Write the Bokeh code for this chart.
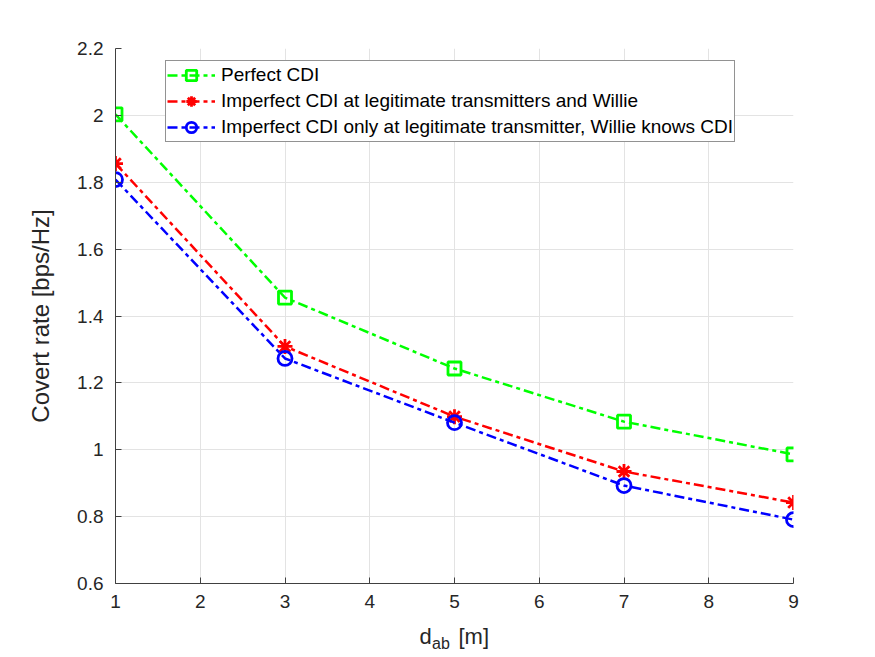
from bokeh.plotting import figure
from bokeh.models import FixedTicker, NumeralTickFormatter, Legend, LegendItem, Label, Range1d
from bokeh.layouts import column
from bokeh.embed import file_html
from bokeh.resources import INLINE

x_vals = [1, 3, 5, 7, 9]
perfect = [2.003, 1.455, 1.243, 1.084, 0.986]
imperfect_both = [1.856, 1.309, 1.099, 0.935, 0.842]
imperfect_tx = [1.808, 1.273, 1.081, 0.893, 0.791]
labels = ["Perfect CDI",
          "Imperfect CDI at legitimate transmitters and Willie",
          "Imperfect CDI only at legitimate transmitter, Willie knows CDI"]
x_ticks = [1, 2, 3, 4, 5, 6, 7, 8, 9]
y_ticks = [0.6, 0.8, 1.0, 1.2, 1.4, 1.6, 1.8, 2.0, 2.2]
x_label_parts = ["d", "ab", "[m]"]

FONT = "Liberation Sans"
TXT = "#262626"

p = figure(width=875, height=620, output_backend="svg", toolbar_location=None,
           x_range=Range1d(1, 9), y_range=Range1d(0.6, 2.2),
           min_border_left=115, min_border_right=82, min_border_top=48, min_border_bottom=37)
p.outline_line_color = None
p.background_fill_color = "white"
p.border_fill_color = "white"

for ax in (p.xaxis[0], p.yaxis[0]):
    ax.axis_line_color = "#404040"
    ax.axis_line_width = 1
    ax.major_tick_in = 6
    ax.major_tick_out = 0
    ax.minor_tick_line_color = None
    ax.major_tick_line_color = "#404040"
    ax.major_label_text_font = FONT
    ax.major_label_text_font_size = "19px"
    ax.major_label_text_color = TXT
    ax.axis_label_text_font = FONT
    ax.axis_label_text_font_style = "normal"
    ax.axis_label_text_color = TXT

p.xaxis.ticker = FixedTicker(ticks=x_ticks)
p.yaxis.ticker = FixedTicker(ticks=y_ticks)
p.yaxis.formatter = NumeralTickFormatter(format="0.[0]")
p.xaxis.major_label_standoff = 11
p.yaxis.major_label_standoff = 12
p.yaxis.axis_label = "Covert rate [bps/Hz]"
p.yaxis.axis_label_text_font_size = "24px"
p.yaxis.axis_label_standoff = 20

p.xgrid.ticker = FixedTicker(ticks=x_ticks)
p.ygrid.ticker = FixedTicker(ticks=y_ticks)
p.grid.grid_line_color = "#e3e3e3"
p.grid.grid_line_width = 1

dash = "10 4 4 4"
series = [
    (perfect, "#00ff00", "square", 13),
    (imperfect_both, "#ff0000", "asterisk", 15),
    (imperfect_tx, "#0000ff", "circle", 14),
]
items = []
for (vals, col, marker, sz), lab in zip(series, labels):
    r1 = p.line(x_vals, vals, line_color=col, line_width=2.5, line_dash=dash)
    r2 = p.scatter(x_vals, vals, marker=marker, size=sz, line_color=col,
                   line_width=2.8, fill_color=None)
    items.append(LegendItem(label=lab, renderers=[r1, r2]))

legend = Legend(items=items, location=(50, 441))
legend.label_text_font = FONT
legend.label_text_font_size = "19px"
legend.label_text_color = "black"
legend.border_line_color = "#262626"
legend.border_line_width = 1
legend.background_fill_color = "white"
legend.background_fill_alpha = 1
legend.glyph_width = 48
legend.glyph_height = 26
legend.label_height = 26
legend.label_standoff = 6
legend.padding = 1
legend.spacing = 0
legend.margin = 0
p.add_layout(legend)

# strip below the chart carrying the x-axis label (with subscript);
# it shares the chart's x range, so the label sits under the same frame
q = figure(width=875, height=37, output_backend="svg", toolbar_location=None,
           x_range=p.x_range, y_range=Range1d(0, 37),
           min_border_left=115, min_border_right=82,
           min_border_top=0, min_border_bottom=0)
q.axis.visible = False
q.grid.visible = False
q.outline_line_color = None
q.background_fill_color = "white"
q.border_fill_color = "white"
q.add_layout(Label(x=4.587, y=21, text=x_label_parts[0],
                   text_font=FONT, text_font_size="22px", text_color=TXT,
                   text_baseline="alphabetic"))
q.add_layout(Label(x=4.735, y=14, text=x_label_parts[1],
                   text_font=FONT, text_font_size="16px", text_color=TXT,
                   text_baseline="alphabetic"))
q.add_layout(Label(x=5.047, y=21, text=x_label_parts[2],
                   text_font=FONT, text_font_size="22px", text_color=TXT,
                   text_baseline="alphabetic"))

layout = column(p, q, spacing=0)
open("out.html", "w").write(file_html(layout, INLINE))
